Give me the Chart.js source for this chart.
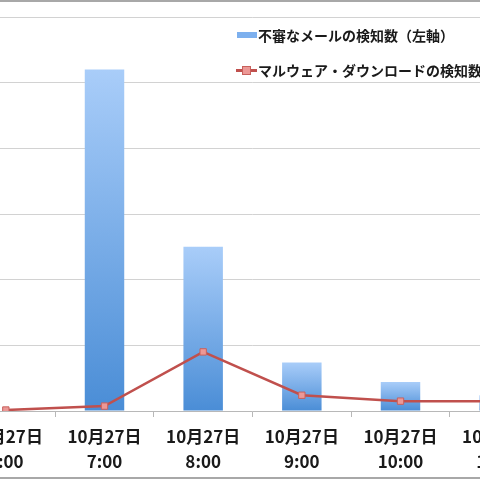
<!DOCTYPE html>
<html>
<head>
<meta charset="utf-8">
<script src="https://cdn.jsdelivr.net/npm/chart.js@4"></script>
<style>
  html, body { margin: 0; padding: 0; background: #fff; }
  body { width: 480px; height: 480px; overflow: hidden; position: relative;
         font-family: "Noto Sans CJK JP", sans-serif; }
  #chart { position: absolute; left: -49px; top: 0; }
  .frame { position: absolute; left: 0; width: 480px; height: 2px; background: #a8a8a8; }
  #legend { position: absolute; left: 236px; top: 24px; font-size: 14px; font-weight: 600;
            color: #1a1a1a; white-space: nowrap; }
  #legend div { height: 35px; line-height: 22px; display: flex; align-items: flex-start; }
  .sw { display: inline-block; width: 21px; height: 22px; position: relative; margin-right: 1px; }
</style>
</head>
<body>
<canvas id="chart" width="603" height="480"></canvas>
<div class="frame" style="top:0"></div>
<div class="frame" style="top:477px"></div>
<div id="legend"></div>
<script>
  const dates = ["10月27日", "10月27日", "10月27日", "10月27日", "10月27日", "10月27日"];
  const times = ["6:00", "7:00", "8:00", "9:00", "10:00", "11:00"];
  const mailCounts = [0, 260, 125, 37, 22, 12];
  const malwareCounts = [1.5, 7.5, 90, 24, 15, 15];
  const seriesNames = ["不審なメールの検知数（左軸）", "マルウェア・ダウンロードの検知数（右軸）"];

  const ctx = document.getElementById("chart").getContext("2d");

  function barFill(context) {
    const chart = context.chart;
    if (!chart.chartArea) return "#7aaef0";
    const y = chart.scales.y;
    const top = y.getPixelForValue(context.raw);
    const bottom = y.getPixelForValue(0);
    if (bottom - top < 1) return "#7aaef0";
    const g = chart.ctx.createLinearGradient(0, top, 0, bottom);
    g.addColorStop(0, "#a9cdf9");
    g.addColorStop(1, "#4a8dd6");
    return g;
  }

  const chart = new Chart(ctx, {
    type: "bar",
    data: {
      labels: dates.map((d, i) => [d, times[i]]),
      datasets: [
        {
          type: "line",
          label: seriesNames[1],
          data: malwareCounts,
          yAxisID: "y1",
          borderColor: "#c0504d",
          borderWidth: 2.5,
          pointStyle: "rect",
          pointRadius: 4.5,
          pointBackgroundColor: "#ec9896",
          pointBorderColor: "#c8605c",
          pointBorderWidth: 1,
          tension: 0,
          order: 0,
        },
        {
          label: seriesNames[0],
          data: mailCounts,
          yAxisID: "y",
          backgroundColor: barFill,
          borderWidth: 0,
          categoryPercentage: 1,
          barPercentage: 0.4,
          order: 1,
        },
      ],
    },
    options: {
      responsive: false,
      animation: false,
      devicePixelRatio: 1,
      layout: { padding: { top: 17, left: 0, right: 0, bottom: 0 } },
      plugins: { legend: { display: false }, tooltip: { enabled: false } },
      scales: {
        x: {
          offset: true,
          grid: { drawOnChartArea: false, drawTicks: true, tickLength: 6, color: "#b8b8b8" },
          border: { display: true, color: "#b8b8b8" },
          ticks: {
            color: "#1a1a1a",
            padding: 7,
            maxRotation: 0,
            autoSkip: false,
            font: { family: "'Noto Sans CJK JP', sans-serif", size: 17, weight: "600", lineHeight: "25px" },
          },
          afterFit: (scale) => { scale.height = 69; },
        },
        y: {
          position: "left",
          min: 0,
          max: 300,
          ticks: { display: false, stepSize: 50 },
          grid: { color: "#d2d2d2", drawTicks: false },
          border: { display: false },
          afterFit: (scale) => { scale.width = 0; },
        },
        y1: {
          position: "right",
          min: 0,
          max: 600,
          ticks: { display: false, stepSize: 100 },
          grid: { drawOnChartArea: false, drawTicks: false },
          border: { display: false },
          afterFit: (scale) => { scale.width = 0; },
        },
      },
    },
  });

  // legend drawn as html so it can sit over the plot area like the original
  const legend = document.getElementById("legend");
  const barItem = document.createElement("div");
  barItem.innerHTML =
    '<span class="sw"><span style="position:absolute;left:1px;top:8px;width:20px;height:6px;background:#7db0ee"></span></span>' +
    "<span>" + chart.data.datasets[1].label + "</span>";
  const lineItem = document.createElement("div");
  lineItem.innerHTML =
    '<span class="sw"><span style="position:absolute;left:0;top:10px;width:21px;height:3px;background:#c0504d"></span>' +
    '<span style="position:absolute;left:6px;top:7px;width:7px;height:7px;background:#ec9896;border:1px solid #c8605c"></span></span>' +
    "<span>" + chart.data.datasets[0].label + "</span>";
  legend.appendChild(barItem);
  legend.appendChild(lineItem);
</script>
</body>
</html>
